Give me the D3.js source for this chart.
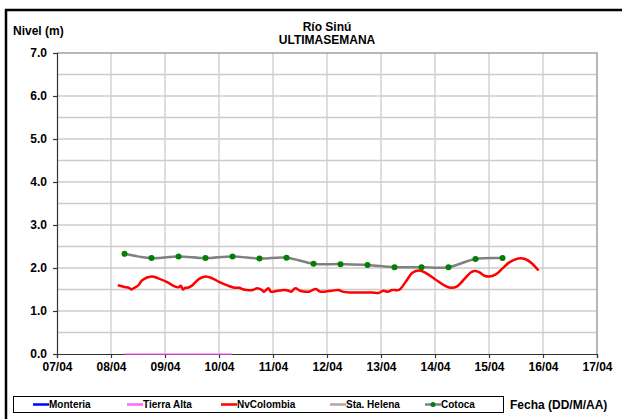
<!DOCTYPE html>
<html><head><meta charset="utf-8">
<script src="https://cdn.jsdelivr.net/npm/d3@7/dist/d3.min.js"></script>
<style>
body{margin:0;background:#fff}
svg{display:block;font-family:"Liberation Sans",Arial,sans-serif;font-weight:bold}
</style>
</head><body>
<svg id="c" width="622" height="419"></svg>
<script>
// ---- data ----
const startDate = new Date(2008, 3, 7, 0, 0); // 07/04
const xTickLabels = ["07/04","08/04","09/04","10/04","11/04","12/04","13/04","14/04","15/04","16/04","17/04"];
const yTickValues = [0,1,2,3,4,5,6,7];
const titleLines = ["Río Sinú", "ULTIMASEMANA"];
const yTitle = "Nivel (m)";
const xTitle = "Fecha (DD/M/AA)";

// hours since 07/04 00:00
const cotocaHours  = [30,42,54,66,78,90,102,114,126,138,150,162,174,186,198];
const cotocaValues = [2.33,2.23,2.27,2.23,2.27,2.22,2.24,2.10,2.09,2.07,2.02,2.02,2.02,2.21,2.23];

const nvHours  = [27,30,32,33,34,36,38,42,45,49,52,54,55,56,57,58,60,63,66,69,72,76,79,81,83,87,89,91,92,94,95,98,101,103,104,106,108,112,115,117,119,122,125,127,130,134,140,143,145,147,149,152,155,158,161,164,168,172,175,178,181,184,186,188,190,192,195,198,201,205,208,211,214];
const nvValues = [1.60,1.56,1.54,1.50,1.53,1.59,1.72,1.80,1.76,1.67,1.58,1.55,1.59,1.50,1.54,1.54,1.59,1.74,1.80,1.76,1.68,1.59,1.54,1.54,1.50,1.49,1.53,1.49,1.45,1.53,1.45,1.47,1.49,1.47,1.45,1.53,1.47,1.45,1.51,1.45,1.45,1.47,1.49,1.45,1.43,1.43,1.43,1.42,1.47,1.45,1.49,1.49,1.68,1.89,1.94,1.88,1.74,1.60,1.54,1.58,1.74,1.90,1.93,1.89,1.82,1.80,1.85,1.99,2.13,2.22,2.21,2.11,1.94];

const tierraHours  = [30,42,54,66,78];
const tierraValues = [0,0,0,0,0];

const legendNames  = ["Monteria","Tierra Alta","NvColombia","Sta. Helena","Cotoca"];
const legendColors = ["#0000ff","#ff66ff","#ff0000","#c0a0a0","#808080"];

// ---- chart ----
const svg = d3.select("#c");
const H = h => new Date(startDate.getTime() + h*3600*1000);
const x = d3.scaleTime().domain([startDate, H(240)]).range([57, 597]);
const y = d3.scaleLinear().domain([0, 7]).range([354, 53]);

// outer frame
svg.append("rect").attr("x",6).attr("y",10).attr("width",700).attr("height",500)
  .attr("fill","none").attr("stroke","#000").attr("stroke-width",2.5);

// gridlines
const g = svg.append("g");
g.selectAll("line.h").data(d3.range(0.5, 7, 0.5)).join("line")
  .attr("x1",57).attr("x2",597).attr("y1",d=>y(d)).attr("y2",d=>y(d))
  .attr("stroke","#cccccc").attr("stroke-width",1.3);
g.selectAll("line.v").data(d3.range(1,10)).join("line")
  .attr("x1",d=>x(H(d*24))).attr("x2",d=>x(H(d*24))).attr("y1",53).attr("y2",354)
  .attr("stroke","#cccccc").attr("stroke-width",1.3);
// top and right border
svg.append("path").attr("d",`M57,${y(7)}H597V354`).attr("fill","none")
  .attr("stroke","#a0a0a0").attr("stroke-width",1.5);

// series
const line = d3.line().curve(d3.curveCatmullRom.alpha(0.5)).x(d=>x(H(d[0]))).y(d=>y(d[1]));
svg.append("path").datum(nvHours.map((h,i)=>[h,nvValues[i]]))
  .attr("d",line).attr("fill","none").attr("stroke",legendColors[2]).attr("stroke-width",2.5)
  .attr("stroke-linejoin","round");
const cot = cotocaHours.map((h,i)=>[h,cotocaValues[i]]);
svg.append("path").datum(cot).attr("d",line).attr("fill","none")
  .attr("stroke",legendColors[4]).attr("stroke-width",2.5);
svg.selectAll("circle.cot").data(cot).join("circle")
  .attr("cx",d=>x(H(d[0]))).attr("cy",d=>y(d[1])).attr("r",3).attr("fill","#008000");

// axes
const yAxis = svg.append("g").attr("transform","translate(57,0)")
  .call(d3.axisLeft(y).tickValues(yTickValues).tickFormat(d3.format(".1f")).tickSize(4).tickPadding(6));
const xAxis = svg.append("g").attr("transform","translate(0,354)")
  .call(d3.axisBottom(x).tickValues(xTickLabels.map((_,i)=>H(i*24)))
    .tickFormat((d,i)=>xTickLabels[i]).tickSize(4).tickPadding(4));
[yAxis,xAxis].forEach(a=>{
  a.selectAll("path,line").attr("stroke","#333").attr("stroke-width",1.2);
  a.selectAll("text").attr("font-size",12).attr("font-weight","bold")
   .attr("font-family","Liberation Sans, Arial, sans-serif").attr("fill","#000");
});

// Tierra Alta at 0 drawn over the axis line
svg.append("path").datum(tierraHours.map((h,i)=>[h,tierraValues[i]]))
  .attr("d",line).attr("fill","none").attr("stroke",legendColors[1]).attr("stroke-width",2)
  .attr("stroke-opacity",0.6);

// titles
svg.append("text").attr("x",327).attr("y",31).attr("text-anchor","middle")
  .attr("font-size",12).text(titleLines[0]);
svg.append("text").attr("x",327).attr("y",44).attr("text-anchor","middle")
  .attr("font-size",12).text(titleLines[1]);
svg.append("text").attr("x",13).attr("y",35).attr("font-size",12).text(yTitle);
svg.append("text").attr("x",510).attr("y",409).attr("font-size",12).text(xTitle);

// legend
svg.append("rect").attr("x",13.5).attr("y",396.5).attr("width",490).attr("height",16)
  .attr("fill","#fff").attr("stroke","#000").attr("stroke-width",1);
const legX = [33,127,221,330,425];
legendNames.forEach((n,i)=>{
  const lx = legX[i], ly = 404.5;
  svg.append("line").attr("x1",lx).attr("x2",lx+16).attr("y1",ly).attr("y2",ly)
    .attr("stroke",legendColors[i]).attr("stroke-width",2.5);
  if(i===4) svg.append("circle").attr("cx",lx+8).attr("cy",ly).attr("r",2.5).attr("fill","#008000");
  svg.append("text").attr("x",lx+16).attr("y",ly+3.5).attr("font-size",10).text(n);
});
</script>
</body></html>
